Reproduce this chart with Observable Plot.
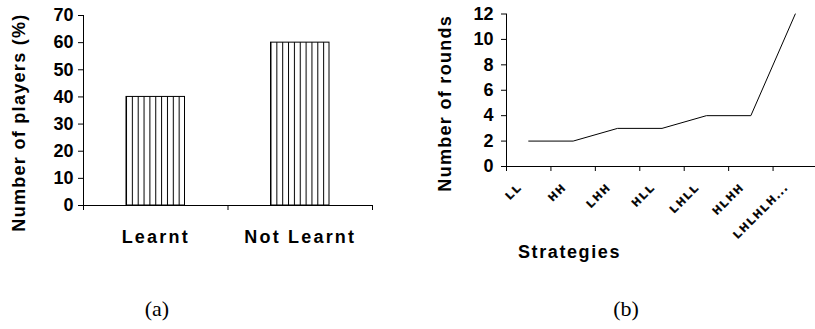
<!DOCTYPE html>
<html>
<head>
<meta charset="utf-8">
<script src="https://cdn.jsdelivr.net/npm/d3@7"></script>
<script src="https://cdn.jsdelivr.net/npm/@observablehq/plot@0.6"></script>
<style>
  html, body { margin: 0; padding: 0; background: #fff; overflow: hidden; }
  #wrap { position: relative; width: 815px; height: 329px; overflow: hidden; }
  #wrap svg { position: absolute; top: 0; overflow: visible; }
  .cap { position: absolute; top: 298px; font-family: "Liberation Serif", serif; font-size: 22px; line-height: 22px; width: 60px; text-align: center; color: #000; }
</style>
</head>
<body>
<div id="wrap"></div>
<script>
// ---- data (a) ----
const categoriesA = ["Learnt", "Not Learnt"];
const playersPct = [40, 60];
const yTicksA = [0, 10, 20, 30, 40, 50, 60, 70];
// ---- data (b) ----
const strategies = ["LL", "HH", "LHH", "HLL", "LHLL", "HLHH", "LHLHLH..."];
const rounds = [2, 2, 3, 3, 4, 4, 12];
const yTicksB = [0, 2, 4, 6, 8, 10, 12];
const captions = ["(a)", "(b)"];
const titlesA = {y: "Number of players (%)"};
const titlesB = {x: "Strategies", y: "Number of rounds"};

const dataA = categoriesA.map((c, i) => ({i, cat: c, value: playersPct[i]}));
const dataB = strategies.map((s, i) => ({i, s, value: rounds[i]}));

const font = {fontFamily: "Liberation Sans, Arial, sans-serif", fontSize: "18px", fontWeight: "bold", background: "transparent", color: "#000"};

const chartA = Plot.plot({
  width: 410, height: 270,
  marginLeft: 83, marginRight: 38, marginTop: 15, marginBottom: 65,
  style: font,
  x: {domain: [0, categoriesA.length], axis: null},
  y: {domain: [0, 70], axis: null},
  marks: [
    Plot.rect(dataA, {x1: d => d.i, x2: d => d.i + 1, y1: 0, y2: "value", insetLeft: 43, insetRight: 43, fill: "url(#vstripes)", stroke: "black", strokeWidth: 1}),
    Plot.axisX({ticks: d3.range(categoriesA.length + 1), tickFormat: () => "", tickSize: 5, label: null}),
    Plot.axisY({ticks: yTicksA, tickSize: 5, tickPadding: 5, label: null, fontSize: 18, fontWeight: "bold"}),
    Plot.ruleY([0], {stroke: "black"}),
    Plot.ruleX([0], {stroke: "black"}),
    Plot.text(dataA, {x: d => d.i + 0.5, y: 0, text: "cat", dy: 37, lineAnchor: "bottom", fontSize: 18, fontWeight: "bold"}),
    Plot.text([titlesA.y], {frameAnchor: "left", text: d => d, rotate: -90, textAnchor: "middle", dx: -64, dy: 12, fontSize: 18, fontWeight: "bold"})
  ]
});

const chartB = Plot.plot({
  width: 410, height: 270,
  marginLeft: 96, marginRight: 3, marginTop: 13.5, marginBottom: 104,
  style: font,
  x: {domain: [-0.5, strategies.length - 0.5], axis: null},
  y: {domain: [0, 12], axis: null},
  marks: [
    Plot.axisX({ticks: d3.range(strategies.length + 1).map(k => k - 0.5), tickFormat: () => "", tickSize: 5, label: null}),
    Plot.axisY({ticks: yTicksB, tickSize: 5, tickPadding: 8, label: null, fontSize: 18, fontWeight: "bold"}),
    Plot.ruleY([0], {stroke: "black"}),
    Plot.ruleX([-0.5], {stroke: "black"}),
    Plot.line(dataB, {x: "i", y: "value", stroke: "black", strokeWidth: 1}),
    Plot.text(dataB, {x: "i", y: 0, text: "s", rotate: -45, textAnchor: "end", lineAnchor: "bottom", dx: -6, dy: 21, fontSize: 11, fontWeight: "bold", fill: "black"}),
    Plot.text([titlesB.x], {frameAnchor: "bottom-left", text: d => d, dx: 63, dy: 91, lineAnchor: "bottom", textAnchor: "middle", fontSize: 18, fontWeight: "bold"}),
    Plot.text([titlesB.y], {frameAnchor: "left", text: d => d, rotate: -90, textAnchor: "middle", dx: -61, dy: 13, fontSize: 18, fontWeight: "bold"})
  ]
});

// stripe pattern for the bars
const sa = d3.select(chartA);
const pat = sa.insert("defs", ":first-child").append("pattern")
  .attr("id", "vstripes").attr("patternUnits", "objectBoundingBox")
  .attr("width", 0.1).attr("height", 1);
pat.append("rect").attr("x", 0).attr("y", 0).attr("width", 20).attr("height", 400).attr("fill", "white");
pat.append("line").attr("x1", 0.5).attr("x2", 0.5).attr("y1", 0).attr("y2", 400).attr("stroke", "black").attr("stroke-width", 1);

function spacing(svg, texts, px) {
  return d3.select(svg).selectAll("text").filter(function () { return texts.includes(this.textContent); })
    .style("letter-spacing", px + "px");
}
spacing(chartA, categoriesA, 2.2);
spacing(chartA, [titlesA.y], 1.3);
spacing(chartB, strategies, 2.2).style("stroke", "black").style("stroke-width", "0.5px");
spacing(chartB, [titlesB.x], 1.6);
spacing(chartB, [titlesB.y], 1.3);

const wrap = document.getElementById("wrap");
chartA.style.left = "0px";
chartB.style.left = "410px";
wrap.appendChild(chartA);
wrap.appendChild(chartB);

const capX = [157, 626];
captions.forEach((c, k) => {
  const d = document.createElement("div");
  d.className = "cap";
  d.style.left = (capX[k] - 30) + "px";
  d.textContent = c;
  wrap.appendChild(d);
});
</script>
</body>
</html>
